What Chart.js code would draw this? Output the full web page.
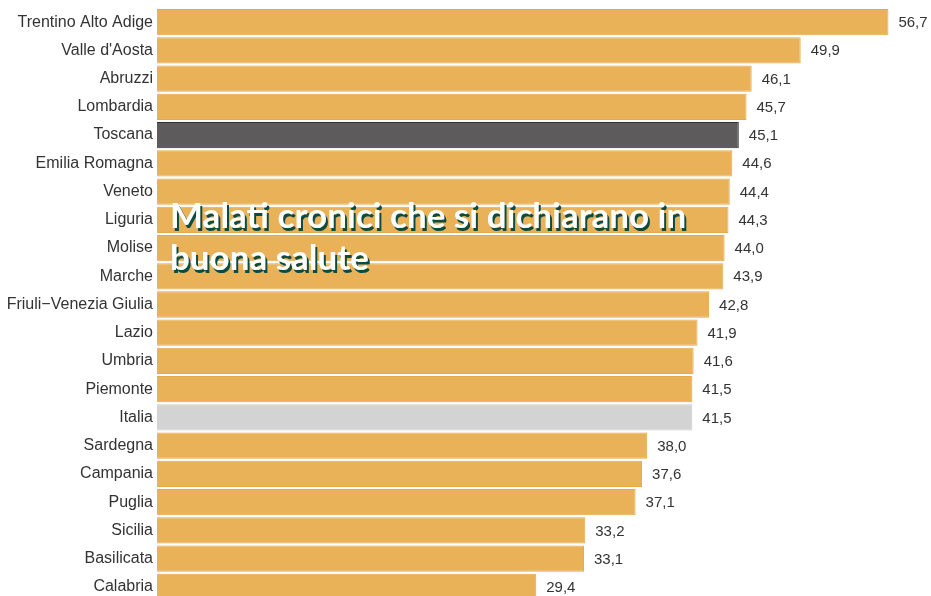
<!DOCTYPE html>
<html>
<head>
<meta charset="utf-8">
<script src="https://cdn.jsdelivr.net/npm/chart.js@4.4.0/dist/chart.umd.min.js"></script>
<style>
  html, body { margin: 0; padding: 0; background: #fff; overflow: hidden; }
  #wrap { width: 931px; height: 602px; position: relative; }
</style>
</head>
<body>
<div id="wrap"><canvas id="myChart"></canvas></div>
<script>
const regions = ['Trentino Alto Adige', "Valle d'Aosta", 'Abruzzi', 'Lombardia', 'Toscana',
    'Emilia Romagna', 'Veneto', 'Liguria', 'Molise', 'Marche', 'Friuli\u2212Venezia Giulia',
    'Lazio', 'Umbria', 'Piemonte', 'Italia', 'Sardegna', 'Campania', 'Puglia', 'Sicilia',
    'Basilicata', 'Calabria'];
const values = [56.7, 49.9, 46.1, 45.7, 45.1, 44.6, 44.4, 44.3, 44.0, 43.9, 42.8,
    41.9, 41.6, 41.5, 41.5, 38.0, 37.6, 37.1, 33.2, 33.1, 29.4];
const titleLines = ['Malati cronici che si dichiarano in', 'buona salute'];

// colours: Toscana highlighted dark, Italia grey, the rest orange
const fillColors = regions.map(r => r == 'Toscana' ? '#5d5b5b' : (r == 'Italia' ? '#d3d3d3' : '#e9b158'));
const borderColors = regions.map(r => r == 'Toscana' ? '#2e2e2e' : (r == 'Italia' ? '#cbcbcb' : '#e6a945'));

// value labels at the end of each bar
const valueLabels = {
    id: 'valueLabels',
    afterDatasetsDraw(chart) {
        const ctx = chart.ctx;
        const meta = chart.getDatasetMeta(0);
        ctx.save();
        ctx.font = '15px "Liberation Sans", Arial, sans-serif';
        ctx.fillStyle = '#333333';
        ctx.textAlign = 'left';
        ctx.textBaseline = 'middle';
        meta.data.forEach((bar, i) => {
            ctx.fillText(values[i].toFixed(1).replace('.', ','), bar.x + 10, bar.y + 1);
        });
        ctx.restore();
    }
};

// big overlaid title with a dark green shadow
const overlayTitle = {
    id: 'overlayTitle',
    afterDraw(chart) {
        const ctx = chart.ctx;
        ctx.save();
        let size = 30;
        ctx.font = 'bold ' + size + 'px Lato, sans-serif';
        size = size * 516 / ctx.measureText(titleLines[0]).width;
        ctx.font = 'bold ' + size.toFixed(1) + 'px Lato, sans-serif';
        ctx.textAlign = 'left';
        ctx.textBaseline = 'alphabetic';
        titleLines.forEach((line, i) => {
            const y = 228 + i * 42;
            ctx.fillStyle = '#0c4b40';
            ctx.fillText(line, 172, y + 2.5);
            ctx.fillStyle = '#ffffff';
            ctx.fillText(line, 170, y);
        });
        ctx.restore();
    }
};

const ctx = document.getElementById('myChart').getContext('2d');
const myChart = new Chart(ctx, {
    type: 'bar',
    data: {
        labels: regions,
        datasets: [{
            data: values,
            backgroundColor: fillColors,
            borderColor: borderColors,
            borderWidth: 1,
            categoryPercentage: 0.93,
            barPercentage: 1.0
        }]
    },
    options: {
        indexAxis: 'y',
        responsive: true,
        maintainAspectRatio: false,
        animation: false,
        layout: { padding: { top: 8, bottom: 1, left: 0, right: 0 } },
        plugins: {
            legend: { display: false },
            tooltip: { enabled: false }
        },
        scales: {
            x: {
                display: false,
                min: 0,
                max: 60
            },
            y: {
                afterFit(scale) {
                    scale.width = 157;
                    scale.paddingTop = 0;
                    scale.paddingBottom = 0;
                },
                grid: { display: false, drawTicks: false },
                border: { display: false },
                ticks: {
                    padding: 4,
                    color: '#333333',
                    font: { family: '"Liberation Sans", Arial, sans-serif', size: 16 }
                }
            }
        }
    },
    plugins: [valueLabels, overlayTitle]
});
</script>
</body>
</html>
